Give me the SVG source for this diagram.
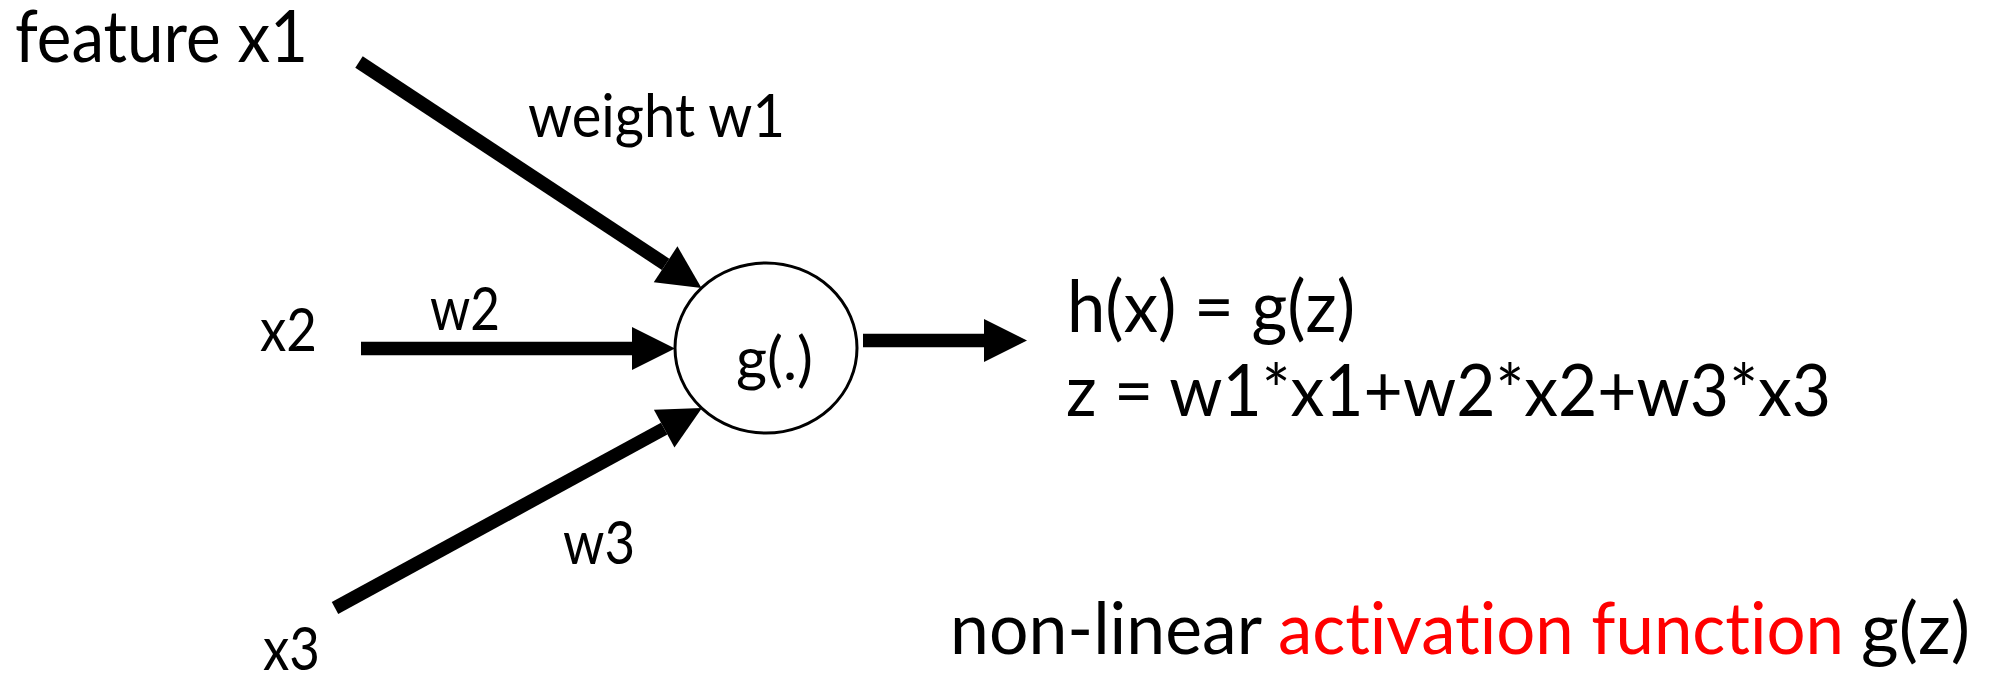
<svg xmlns="http://www.w3.org/2000/svg" width="1992" height="673" viewBox="0 0 1992 673">
<style>
  .lbl { font-family: Lato, "Open Sans", "Liberation Sans", sans-serif; fill: #000; font-variant-ligatures: none; }
  .big { font-size: 71px; }
  .small { font-size: 60px; }
  .red { fill: #FF0000; }
  .conn { stroke: #000; stroke-width: 13.5; fill: none; stroke-linecap: butt; marker-end: url(#head); }
  .node { fill: #fff; stroke: #000; stroke-width: 3; }
</style>
<defs>
  <marker id="head" markerUnits="userSpaceOnUse" markerWidth="44" markerHeight="44" refX="0" refY="21.5" orient="auto" overflow="visible">
    <path d="M0,0 L43,21.5 L0,43 Z" fill="#000"/>
  </marker>
</defs>
<rect width="1992" height="673" fill="#fff"/>

<g id="connectors">
  <line class="conn" x1="359" y1="62" x2="665.6" y2="264.3"/>
  <line class="conn" x1="361" y1="348.5" x2="632" y2="348.5"/>
  <line class="conn" x1="335" y1="608" x2="664.2" y2="428.6"/>
  <line class="conn" x1="863" y1="340.5" x2="984" y2="340.5"/>
</g>

<g id="neuron">
  <ellipse class="node" cx="766" cy="348" rx="91" ry="85"/>
  <text class="lbl small" x="736" y="380" textLength="77" lengthAdjust="spacingAndGlyphs">g(.)</text>
</g>

<g id="input-x1">
  <text class="lbl big" x="15" y="62" textLength="293" lengthAdjust="spacingAndGlyphs">feature x1</text>
</g>
<g id="input-x2">
  <text class="lbl small" x="260" y="351" textLength="57" lengthAdjust="spacingAndGlyphs">x2</text>
</g>
<g id="input-x3">
  <text class="lbl small" x="263" y="670" textLength="57" lengthAdjust="spacingAndGlyphs">x3</text>
</g>

<g id="weight-labels">
  <text class="lbl small" x="528" y="137" textLength="257" lengthAdjust="spacingAndGlyphs">weight w1</text>
  <text class="lbl small" x="430" y="330" textLength="70" lengthAdjust="spacingAndGlyphs">w2</text>
  <text class="lbl small" x="563" y="564" textLength="72" lengthAdjust="spacingAndGlyphs">w3</text>
</g>

<g id="output">
  <text class="lbl big" x="1067" y="332" textLength="288" lengthAdjust="spacingAndGlyphs">h(x) = g(z)</text>
  <text class="lbl big" x="1066" y="416" textLength="765" lengthAdjust="spacingAndGlyphs">z = w1*x1+w2*x2+w3*x3</text>
</g>

<g id="caption">
  <text class="lbl big" x="950" y="654" textLength="312" lengthAdjust="spacingAndGlyphs">non-linear</text>
  <text class="lbl big red" x="1278" y="654" textLength="566" lengthAdjust="spacingAndGlyphs">activation function</text>
  <text class="lbl big" x="1861" y="654" textLength="109" lengthAdjust="spacingAndGlyphs">g(z)</text>
</g>
</svg>
